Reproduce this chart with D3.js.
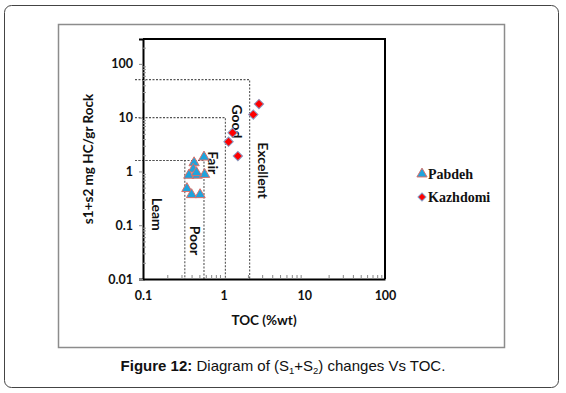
<!DOCTYPE html>
<html>
<head>
<meta charset="utf-8">
<script src="https://cdn.jsdelivr.net/npm/d3@7"></script>
<style>
  body { margin: 0; background: #fff; }
  svg { display: block; }
</style>
</head>
<body>
<svg id="chart"></svg>
<script>
const size = {w: 566, h: 393};

// data
const xTicks = [0.1, 1, 10, 100];
const yTicks = [0.01, 0.1, 1, 10, 100];
const yTickLabels = ['0.01', '0.1', '1', '10', '100'];
const xTickLabels = ['0.1', '1', '10', '100'];

const pabdehToc = [0.57, 0.43, 0.42, 0.37, 0.47, 0.58, 0.35, 0.40, 0.51, 0.46];
const pabdehS = [1.85, 1.45, 1.1, 0.85, 0.85, 0.88, 0.48, 0.37, 0.37, 0.95];
const kazhToc = [2.74, 2.33, 1.29, 1.15, 1.50];
const kazhS = [17.9, 11.4, 5.25, 3.57, 1.93];

// class boundaries: [toc, s1+s2]
const bounds = [[0.33, 1.6], [0.57, 1.6], [1.05, 10], [2.1, 51]];
const classNames = ['Leam', 'Poor', 'Fair', 'Good', 'Excellent'];
const classPos = [[0.149, 0.16], [0.44, 0.052], [0.73, 1.45], [1.46, 8.5], [3.1, 1.04]];

const svg = d3.select('svg#chart')
    .attr('width', size.w)
    .attr('height', size.h);

// frames
svg.append('rect')
    .attr('x', 4.5).attr('y', 5.5)
    .attr('width', 554).attr('height', 382)
    .attr('rx', 7)
    .attr('fill', 'none')
    .attr('stroke', '#444')
    .attr('stroke-width', 1);

svg.append('rect')
    .attr('x', 58.5).attr('y', 24.5)
    .attr('width', 446).attr('height', 323)
    .attr('fill', 'none')
    .attr('stroke', '#8c8c8c')
    .attr('stroke-width', 1.5);

const x = d3.scaleLog().domain([0.1, 100]).range([143, 385]);
const y = d3.scaleLog().domain([0.01, 290]).range([279, 39]);

const g = svg.append('g');

// dashed class boundaries
bounds.forEach(b => {
    g.append('path')
        .attr('d', `M${x(0.1) - 8},${y(b[1])}H${x(b[0])}V${y(0.01)}`)
        .attr('fill', 'none')
        .attr('stroke', '#555')
        .attr('stroke-width', 1.1)
        .attr('stroke-dasharray', '2,1.5');
});

// plot frame top and right
g.append('path')
    .attr('d', `M${x(0.1)},${y(290)}H${x(100)}V${y(0.01)}`)
    .attr('fill', 'none')
    .attr('stroke', '#000')
    .attr('stroke-width', 2);

// minor ticks
const minorVals = (lo, hi) => {
    let out = [];
    for (let d = lo; d < hi; d *= 10)
        for (let k = 2; k <= 9; k++) if (d * k <= hi) out.push(d * k);
    return out;
};

const xAxis = g.append('g').attr('transform', `translate(0,${y(0.01)})`)
    .call(d3.axisBottom(x).tickValues(xTicks).tickSize(0).tickPadding(12)
        .tickFormat((d, i) => xTickLabels[i]));
g.append('g').attr('transform', `translate(0,${y(0.01)})`)
    .call(d3.axisBottom(x).tickValues(minorVals(0.1, 100)).tickSize(-4).tickFormat(''))
    .call(a => a.select('.domain').remove())
    .selectAll('line').attr('stroke', '#888');

const yAxis = g.append('g').attr('transform', `translate(${x(0.1)},0)`)
    .call(d3.axisLeft(y).tickValues(yTicks).tickSize(4).tickPadding(6)
        .tickFormat((d, i) => yTickLabels[i]));
g.append('g').attr('transform', `translate(${x(0.1)},0)`)
    .call(d3.axisLeft(y).tickValues(minorVals(0.01, 290)).tickSize(-3).tickFormat(''))
    .call(a => a.select('.domain').remove())
    .selectAll('line').attr('stroke', '#999');

[xAxis, yAxis].forEach(a => {
    a.select('.domain').attr('stroke', '#000').attr('stroke-width', 2);
    a.selectAll('.tick line').attr('stroke', '#888');
    a.selectAll('text')
        .attr('font-family', 'Lato, sans-serif')
        .attr('font-weight', 'bold')
        .attr('font-size', 12.5)
        .attr('fill', '#111');
});

// class labels (rotated)
g.selectAll('text.cls')
    .data(classNames)
    .join('text')
    .attr('class', 'cls')
    .attr('transform', (d, i) => `translate(${x(classPos[i][0])},${y(classPos[i][1])}) rotate(90)`)
    .attr('text-anchor', 'middle')
    .attr('dy', '0.35em')
    .attr('font-family', 'Lato, sans-serif')
    .attr('font-weight', 'bold')
    .attr('font-size', 14)
    .attr('fill', '#111')
    .text(d => d);

// points
const tri = d3.symbol().type(d3.symbolTriangle).size(46);
const dia = d3.symbol().type(d3.symbolSquare).size(44);

g.selectAll('path.pab')
    .data(pabdehToc)
    .join('path')
    .attr('class', 'pab')
    .attr('transform', (d, i) => `translate(${x(d)},${y(pabdehS[i])})`)
    .attr('d', tri)
    .attr('fill', '#1fa3dc')
    .attr('stroke', '#d9706a')
    .attr('stroke-width', 1);

g.selectAll('path.kaz')
    .data(kazhToc)
    .join('path')
    .attr('class', 'kaz')
    .attr('transform', (d, i) => `translate(${x(d)},${y(kazhS[i])}) rotate(45)`)
    .attr('d', dia)
    .attr('fill', '#ff0000')
    .attr('stroke', '#8a9cc4')
    .attr('stroke-width', 1);

// axis titles
svg.append('text')
    .attr('x', (x(0.1) + x(100)) / 2)
    .attr('y', 325)
    .attr('text-anchor', 'middle')
    .attr('font-family', 'Lato, sans-serif')
    .attr('font-weight', 'bold')
    .attr('font-size', 13.5)
    .attr('fill', '#111')
    .text('TOC (%wt)');

svg.append('text')
    .attr('transform', `translate(93,${(y(0.01) + y(290)) / 2}) rotate(-90)`)
    .attr('text-anchor', 'middle')
    .attr('font-family', 'Lato, sans-serif')
    .attr('font-weight', 'bold')
    .attr('font-size', 13.5)
    .attr('fill', '#111')
    .text('s1+s2 mg HC/gr Rock');

// legend
const legend = svg.append('g').attr('transform', 'translate(422,0)');
const legendItems = [
    ['Pabdeh', 174, d3.symbol().type(d3.symbolTriangle).size(45), 0, '#1fa3dc', '#d9706a'],
    ['Kazhdomi', 197, d3.symbol().type(d3.symbolSquare).size(32), 45, '#ff0000', '#8a9cc4']
];
legendItems.forEach(it => {
    legend.append('path')
        .attr('transform', `translate(0,${it[1]}) rotate(${it[3]})`)
        .attr('d', it[2])
        .attr('fill', it[4])
        .attr('stroke', it[5]);
    legend.append('text')
        .attr('x', 6).attr('y', it[1])
        .attr('dy', '0.35em')
        .attr('font-family', '"Liberation Serif", serif')
        .attr('font-weight', 'bold')
        .attr('font-size', 14)
        .attr('fill', '#111')
        .text(it[0]);
});

// caption
const cap = svg.append('text')
    .attr('x', 283).attr('y', 371)
    .attr('text-anchor', 'middle')
    .attr('font-family', '"Liberation Sans", Arial, sans-serif')
    .attr('font-size', 15)
    .attr('fill', '#111');
cap.append('tspan').attr('font-weight', 'bold').text('Figure 12:');
cap.append('tspan').text(' Diagram of (S');
cap.append('tspan').attr('font-size', 9.5).attr('dy', 3).text('1');
cap.append('tspan').attr('dy', -3).text('+S');
cap.append('tspan').attr('font-size', 9.5).attr('dy', 3).text('2');
cap.append('tspan').attr('dy', -3).text(') changes Vs TOC.');
</script>
</body>
</html>
